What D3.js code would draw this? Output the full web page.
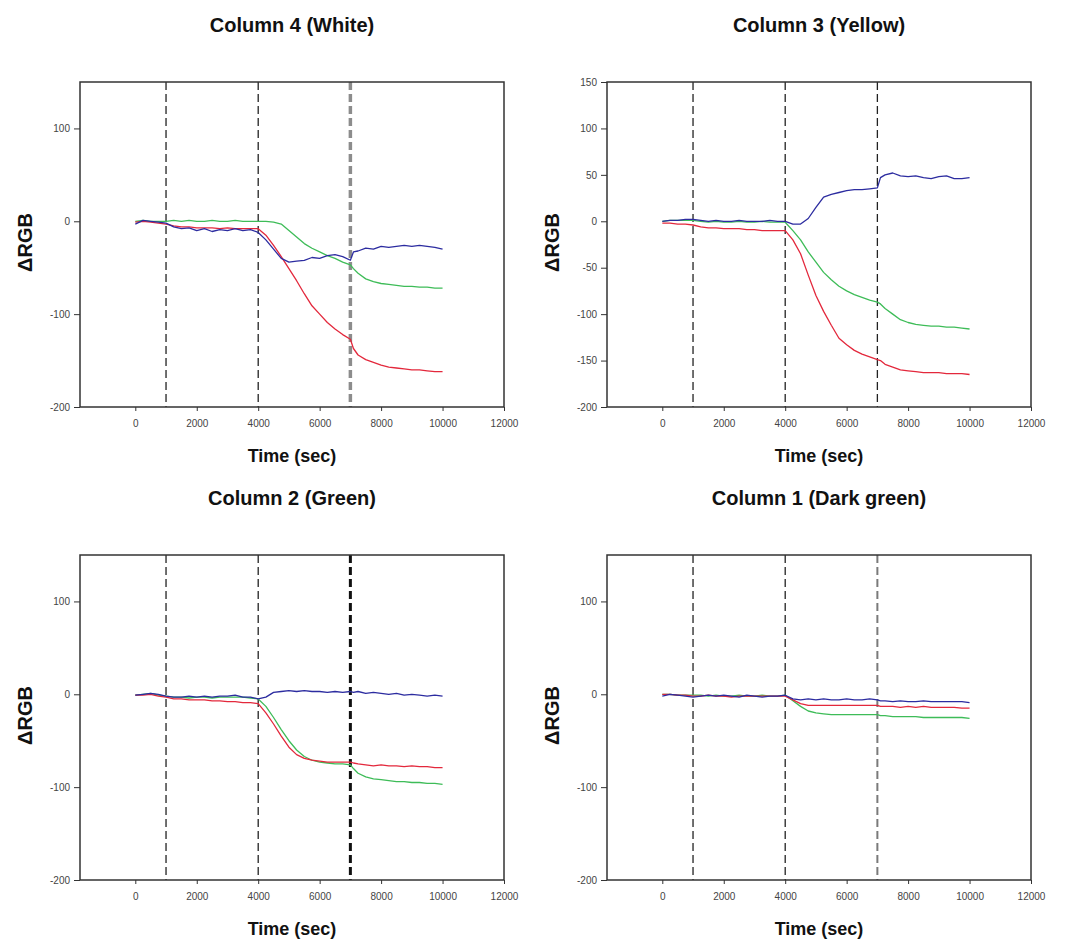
<!DOCTYPE html>
<html>
<head>
<meta charset="utf-8">
<script src="https://cdn.jsdelivr.net/npm/d3@7"></script>
<style>
  body { margin: 0; background: #fff; }
  .tick text { font-family: "Liberation Sans", Arial, sans-serif; font-size: 10px; fill: #444; }
  .tick line { stroke: #333; }
  .domain { display: none; }
</style>
</head>
<body>
<div id="chart"></div>
<script>
// time stamps (sec), shared by every series
var times = [0, 250, 500, 750, 1000, 1250, 1500, 1750, 2000, 2250, 2500, 2750, 3000, 3250, 3500, 3750,
  4000, 4250, 4500, 4750, 5000, 5250, 5500, 5750, 6000, 6250, 6500, 6750, 7000, 7100, 7250, 7500,
  7750, 8000, 8250, 8500, 8750, 9000, 9250, 9500, 9750, 10000];

// event markers (dashed lines)
var markers = [1000, 4000, 7000];

var xTicks = [0, 2000, 4000, 6000, 8000, 10000, 12000];
var yTicksCoarse = [-200, -100, 0, 100];
var yTicksFine = [-200, -150, -100, -50, 0, 50, 100, 150];

var titles = ["Column 4 (White)", "Column 3 (Yellow)", "Column 2 (Green)", "Column 1 (Dark green)"];

// Column 4 (White)
var whiteRed = [-1, 0, -1, -2, -3, -5, -6, -6, -7, -7, -7, -8, -7, -8, -8, -8,
  -8, -15, -26, -38, -51, -64, -78, -91, -100, -109, -116, -122, -127, -137, -144, -149,
  -152, -155, -157, -158, -159, -160, -160, -161, -162, -162];
var whiteGreen = [0, 1, 0, 0, 0, 1, 0, 1, 0, 0, 1, 0, 0, 1, 0, 0,
  0, 0, -1, -3, -10, -17, -24, -29, -33, -37, -40, -44, -47, -51, -56, -62,
  -65, -67, -68, -69, -70, -70, -71, -71, -72, -72];
var whiteBlue = [-3, 1, 0, -1, -2, -6, -8, -7, -10, -8, -11, -9, -10, -8, -10, -9,
  -12, -20, -30, -40, -44, -43, -42, -39, -40, -37, -36, -38, -42, -33, -32, -29,
  -30, -27, -28, -27, -26, -27, -26, -27, -28, -30];

// Column 3 (Yellow)
var yellowRed = [-2, -2, -3, -3, -4, -6, -7, -7, -8, -8, -8, -9, -9, -10, -10, -10,
  -10, -20, -35, -58, -80, -97, -112, -126, -133, -139, -143, -146, -149, -150, -154, -157,
  -160, -161, -162, -163, -163, -163, -164, -164, -164, -165];
var yellowGreen = [0, 1, 1, 1, 1, 0, -1, 0, -1, -1, 0, -1, -1, 0, -1, -1,
  -1, -10, -20, -33, -44, -55, -63, -70, -75, -79, -82, -85, -87, -89, -94, -100,
  -106, -109, -111, -112, -113, -113, -114, -114, -115, -116];
var yellowBlue = [0, 1, 1, 2, 2, 1, 0, 1, 0, 0, 1, 0, 0, 0, 1, 0,
  0, -3, -3, 3, 15, 26, 29, 31, 33, 34, 34, 35, 36, 47, 50, 52,
  49, 48, 49, 47, 46, 48, 49, 46, 46, 47];

// Column 2 (Green)
var greenRed = [-1, -1, 0, -2, -3, -5, -5, -6, -6, -6, -7, -7, -8, -8, -9, -9,
  -10, -20, -32, -45, -57, -65, -69, -71, -72, -73, -73, -73, -73, -74, -75, -76,
  -77, -76, -77, -77, -78, -77, -78, -78, -79, -79];
var greenGreen = [-1, 0, 1, -1, -2, -3, -3, -4, -3, -3, -4, -3, -3, -3, -3, -4,
  -5, -13, -25, -38, -50, -60, -67, -71, -73, -74, -75, -75, -76, -80, -85, -89,
  -91, -92, -93, -94, -94, -95, -95, -96, -96, -97];
var greenBlue = [-1, 0, 1, 0, -2, -3, -3, -2, -3, -2, -3, -2, -2, -1, -3, -3,
  -5, -3, 2, 3, 4, 3, 4, 3, 3, 2, 3, 2, 3, 2, 3, 1,
  2, 1, 0, 1, -1, 0, -1, -2, -1, -2];

// Column 1 (Dark green)
var darkRed = [0, 0, -1, -1, -2, -2, -1, -2, -2, -3, -2, -2, -2, -2, -2, -2,
  -2, -6, -10, -12, -12, -12, -12, -12, -12, -12, -12, -12, -12, -13, -13, -13,
  -14, -13, -14, -13, -14, -14, -14, -14, -15, -15];
var darkGreen = [0, 0, -1, -1, -1, -1, -2, -1, -2, -2, -1, -2, -2, -1, -2, -2,
  -1, -7, -13, -18, -20, -21, -22, -22, -22, -22, -22, -22, -22, -23, -23, -24,
  -24, -24, -24, -25, -25, -25, -25, -25, -25, -26];
var darkBlue = [-2, 0, -1, -2, -3, -2, -1, -2, -1, -2, -3, -1, -2, -3, -2, -2,
  -1, -5, -6, -5, -6, -5, -6, -6, -5, -6, -6, -5, -6, -7, -7, -8,
  -7, -8, -8, -7, -8, -8, -8, -8, -8, -9];

var colors = { red: "#e3283c", green: "#3ebc58", blue: "#2c2ca0" };

// layout of the four panels
var panels = [
  { title: titles[0], left: 80, top: 82, yTicks: yTicksCoarse, red: whiteRed, green: whiteGreen, blue: whiteBlue,
    lastMarker: { stroke: "#8c8c8c", width: 3.5 } },
  { title: titles[1], left: 607, top: 82, yTicks: yTicksFine, red: yellowRed, green: yellowGreen, blue: yellowBlue,
    lastMarker: { stroke: "#222", width: 1.3 } },
  { title: titles[2], left: 80, top: 555, yTicks: yTicksCoarse, red: greenRed, green: greenGreen, blue: greenBlue,
    lastMarker: { stroke: "#111", width: 3 } },
  { title: titles[3], left: 607, top: 555, yTicks: yTicksCoarse, red: darkRed, green: darkGreen, blue: darkBlue,
    lastMarker: { stroke: "#7a7a7a", width: 2 } }
];

var width = 424, height = 325;

var svg = d3.select("#chart")
  .append("svg")
  .attr("width", 1068)
  .attr("height", 945)
  .style("background", "#fff");

var x = d3.scaleLinear()
  .domain([-1800, 12000])
  .range([0, width]);

var y = d3.scaleLinear()
  .domain([-200, 150])
  .range([height, 0]);

// plain hyphen for negative labels
var fmt = function (d) { return String(d); };

panels.forEach(function (p) {
  var g = svg.append("g")
    .attr("transform", "translate(" + p.left + "," + p.top + ")");

  // title
  g.append("text")
    .attr("x", width / 2)
    .attr("y", -50)
    .attr("text-anchor", "middle")
    .style("font-family", "'Liberation Sans', Arial, sans-serif")
    .style("font-weight", "bold")
    .style("font-size", "20px")
    .style("fill", "#111")
    .text(p.title);

  // axes
  g.append("g")
    .attr("transform", "translate(0," + height + ")")
    .call(d3.axisBottom(x).tickValues(xTicks).tickSize(4).tickPadding(9).tickFormat(fmt));

  g.append("g")
    .call(d3.axisLeft(y).tickValues(p.yTicks).tickSize(6).tickPadding(4).tickFormat(fmt));

  // axis labels
  g.append("text")
    .attr("x", width / 2)
    .attr("y", height + 55)
    .attr("text-anchor", "middle")
    .style("font-family", "'Liberation Sans', Arial, sans-serif")
    .style("font-weight", "bold")
    .style("font-size", "18px")
    .style("fill", "#111")
    .text("Time (sec)");

  g.append("text")
    .attr("transform", "rotate(-90)")
    .attr("x", -height / 2 + 2)
    .attr("y", -48)
    .attr("text-anchor", "middle")
    .style("font-family", "'Liberation Sans', Arial, sans-serif")
    .style("font-weight", "bold")
    .style("font-size", "20px")
    .style("fill", "#111")
    .text("\u0394RGB");

  // dashed event lines
  g.selectAll(".marker")
    .data(markers)
    .enter()
    .append("line")
    .attr("x1", function (d) { return x(d); })
    .attr("x2", function (d) { return x(d); })
    .attr("y1", 0)
    .attr("y2", height)
    .attr("stroke", function (d, i) { return i === 2 ? p.lastMarker.stroke : "#222"; })
    .attr("stroke-width", function (d, i) { return i === 2 ? p.lastMarker.width : 1.3; })
    .attr("stroke-dasharray", "8,4");

  // series
  var line = d3.line()
    .x(function (d, i) { return x(times[i]); })
    .y(function (d) { return y(d); });

  [["green", p.green], ["red", p.red], ["blue", p.blue]].forEach(function (s) {
    g.append("path")
      .datum(s[1])
      .attr("fill", "none")
      .attr("stroke", colors[s[0]])
      .attr("stroke-width", 1.3)
      .attr("stroke-linejoin", "round")
      .attr("d", line);
  });

  // frame
  g.append("rect")
    .attr("width", width)
    .attr("height", height)
    .attr("fill", "none")
    .attr("stroke", "#333")
    .attr("stroke-width", 1.5);
});
</script>
</body>
</html>
